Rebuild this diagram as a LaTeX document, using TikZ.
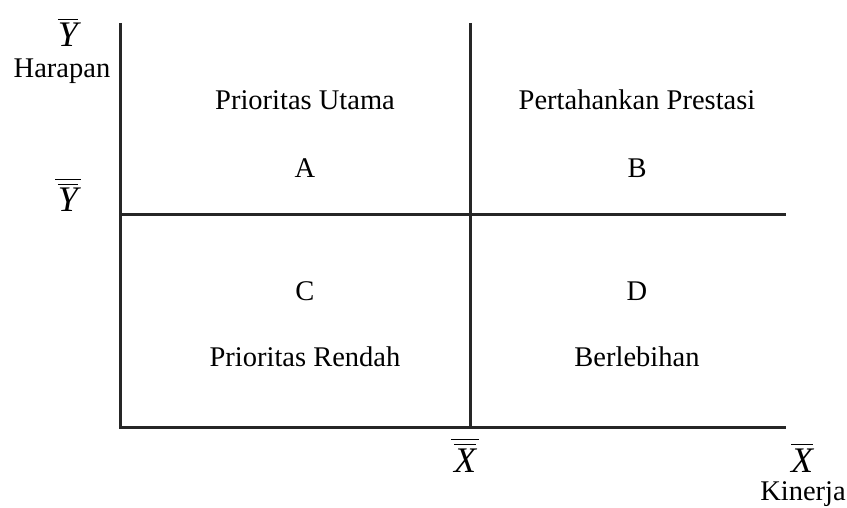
\documentclass[tikz,border=0pt]{standalone}
\usepackage{amsmath}
\usepackage{fontspec}
\setmainfont{Liberation Serif}
\usetikzlibrary{positioning}

\begin{document}
\begin{tikzpicture}[
    x=1pt, y=-1pt,
    axis/.style = {line width=3pt, black!85},
    quad/.style = {anchor=base, inner sep=0pt, font=\fontsize{28.5}{32}\selectfont},
    sym/.style  = {anchor=base, inner sep=0pt, font=\fontsize{36}{40}\selectfont}
]
    \useasboundingbox (0,0) rectangle (847,508);
    % frame of the matrix
    \coordinate (origin) at (120,427);
    \coordinate (ytop) at (120,23);
    \coordinate (xend) at (786,427);
    \coordinate (midtop) at (470,23);
    \coordinate (midbot) at (470,427);
    \coordinate (hleft) at (120,215);
    \coordinate (hright) at (786,215);
    \draw [axis] (ytop) -- (origin) -- (xend);
    \draw [axis] (midtop) -- (midbot);
    \draw [axis] (hleft) -- (hright);
    % axis labels
    \node [sym] (ybar) at (68,47) {$\overline{\textit{Y}}$};
    \node [quad] (harapan) at (62,78) {Harapan};
    \node [sym] (ybarbar) at (68,212) {$\overline{\mkern2mu\overline{\textit{Y}}\mkern2mu}$};
    \node [sym] (xbarbar) at (465,472) {$\overline{\mkern2mu\overline{\textit{X}}\mkern2mu}$};
    \node [sym] (xbar) at (802,472) {$\overline{\textit{X}}$};
    \node [quad] (kinerja) at (803,500) {Kinerja};
    % quadrants
    \node [quad] (utama) at (305,110) {Prioritas Utama};
    \node [quad] (qa) at (305,178) {A};
    \node [quad] (prestasi) at (637,110) {Pertahankan Prestasi};
    \node [quad] (qb) at (637,178) {B};
    \node [quad] (qc) at (305,300) {C};
    \node [quad] (rendah) at (305,366) {Prioritas Rendah};
    \node [quad] (qd) at (637,300) {D};
    \node [quad] (lebih) at (637,366) {Berlebihan};
\end{tikzpicture}
\end{document}
